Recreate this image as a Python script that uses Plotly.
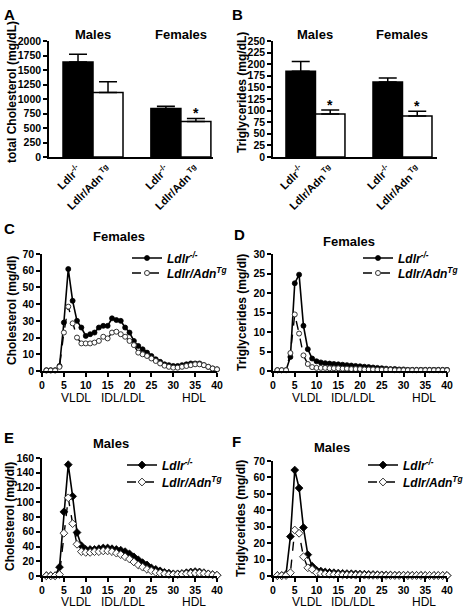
import plotly.graph_objects as go

W, H = 463, 612
FONT = "Liberation Sans, Arial, sans-serif"

# ---------------- data ----------------
GROUPS = ["Males", "Females"]
GENOTYPE_TICKS = ["Ldlr<sup>-/-</sup>", "Ldlr/Adn<sup> Tg</sup>"]

# Panel A: total cholesterol (mg/dL)
A_LDLR_MEAN = [1640, 837]
A_LDLR_ERR = [133, 38]
A_ADN_MEAN = [1114, 612]
A_ADN_ERR = [182, 53]
A_SIG = [False, True]

# Panel B: triglycerides (mg/dL)
B_LDLR_MEAN = [184.7, 161.6]
B_LDLR_ERR = [21, 8.5]
B_ADN_MEAN = [92.7, 88.4]
B_ADN_ERR = [8.5, 10]
B_SIG = [True, True]

FRACTIONS = list(range(1, 41))

C_LDLR = [0.5, 0.5, 0.5, 3, 29, 61, 42, 30, 26, 21, 22, 23, 26, 27, 27, 31.5, 30.5, 30, 26, 23,
          18, 15, 13, 11, 9, 7, 5.5, 4, 3.5, 3, 3, 3.5, 4, 4.5, 4.5, 4.5, 3.5, 2.5, 1.5, 1]
C_ADN = [0.3, 0.3, 0.3, 2.5, 23, 38.5, 28.5, 20, 16.5, 16.5, 16.5, 17, 18, 20.5, 19.5, 23, 23.5, 22, 20.5, 18,
         15.5, 11, 10, 9, 7.5, 6, 4.5, 3.2, 2.5, 2, 2, 2.5, 3, 3.5, 4, 4, 3.5, 2.5, 1.5, 1]

D_LDLR = [0.2, 0.2, 0.2, 3.6, 22.5, 24.7, 11.6, 5.6, 3.2, 2.5, 2.2, 2.0, 1.9, 1.8, 1.7, 1.6, 1.5, 1.4, 1.3, 1.2,
          1.1, 1.0, 0.9, 0.8, 0.7, 0.6, 0.5, 0.5, 0.4, 0.4, 0.3, 0.3, 0.3, 0.3, 0.3, 0.3, 0.3, 0.3, 0.3, 0.3]
D_ADN = [0.2, 0.2, 0.2, 4.6, 14.5, 9.6, 4.0, 1.8, 1.0, 0.8, 0.8, 0.8, 0.7, 0.7, 0.7, 0.6, 0.6, 0.5, 0.5, 0.5,
         0.4, 0.4, 0.4, 0.3, 0.3, 0.3, 0.3, 0.2, 0.2, 0.2, 0.2, 0.2, 0.2, 0.2, 0.2, 0.2, 0.2, 0.2, 0.2, 0.2]

E_LDLR = [0.5, 0.5, 0.5, 12, 87, 151, 108, 59, 41, 36, 36, 36, 37, 38, 38, 37, 36, 35, 33, 30,
          26, 22, 18, 15, 11, 9, 7, 5, 4, 3, 3, 3.5, 4.5, 5.5, 6, 5.5, 4.5, 3, 2, 1]
E_ADN = [0.3, 0.3, 0.3, 2, 58, 106, 71, 43, 33, 32, 32, 33, 33, 34, 34, 33, 31, 29, 26, 23,
         19, 15, 12, 9, 7, 5, 4, 3, 2, 2, 2, 2.5, 3, 3.5, 4, 4, 3.5, 2.5, 1.5, 1]

F_LDLR = [0.3, 0.3, 1, 24, 64.5, 53.5, 29.5, 13, 6, 3.5, 3, 2.5, 2.2, 2.0, 1.8, 1.6, 1.5, 1.4, 1.3, 1.2,
          1.1, 1.0, 0.9, 0.8, 0.7, 0.6, 0.6, 0.5, 0.5, 0.5, 0.4, 0.4, 0.4, 0.4, 0.3, 0.3, 0.3, 0.3, 0.3, 0.3]
F_ADN = [0.2, 0.2, 0.3, 2, 28, 26, 11.7, 5, 4, 2, 1.5, 1.2, 1.0, 0.9, 0.8, 0.7, 0.6, 0.6, 0.5, 0.5,
         0.5, 0.4, 0.4, 0.4, 0.3, 0.3, 0.3, 0.3, 0.3, 0.3, 0.3, 0.3, 0.3, 0.3, 0.3, 0.3, 0.3, 0.3, 0.3, 0.3]

REGION_LABELS = ["VLDL", "IDL/LDL", "HDL"]
REGION_X = [7.8, 18.5, 34.7]

LEGEND_NAMES = ["<i>Ldlr<sup>-/-</sup></i>", "<i>Ldlr/Adn<sup>Tg</sup></i>"]


# ---------------- helpers ----------------
def px(x):
    return x / W


def py(y):
    return 1 - y / H


def bold(size):
    return dict(family=FONT, size=size, color="black", weight="bold")


def label(x, y, text, font, xref="paper", yref="paper", angle=0):
    return dict(x=x, y=y, xref=xref, yref=yref, text=text, showarrow=False, font=font,
                xanchor="center", yanchor="middle", textangle=angle)


fig = go.Figure()
annotations = []

axis_common = dict(showline=True, linecolor="black", linewidth=1.5, showgrid=False,
                   zeroline=False, ticks="outside", ticklen=4, tickwidth=1.5, tickcolor="black",
                   tickfont=bold(10.5), fixedrange=True, automargin=False)

# --------- bar panels ---------
bar_panels = [
    dict(xa="x", ya="y", xd=(49, 213), yd=(41, 157), gap=2.93, xr=[-0.967, 4.5], yr=[0, 2000], dt=250,
         l=(A_LDLR_MEAN, A_LDLR_ERR), a=(A_ADN_MEAN, A_ADN_ERR), sig=A_SIG,
         title="total Cholesterol (mg/dL)", tpos=(12, 92), letter=("A", 9, 14)),
    dict(xa="x2", ya="y2", xd=(273, 437), yd=(41, 157), gap=2.95, xr=[-0.94, 4.62], yr=[0, 250], dt=25,
         l=(B_LDLR_MEAN, B_LDLR_ERR), a=(B_ADN_MEAN, B_ADN_ERR), sig=B_SIG,
         title="Triglycerides (mg/dL)", tpos=(242, 92), letter=("B", 237, 14)),
]

for i, p in enumerate(bar_panels):
    pos_l = [g * p["gap"] + 0 for g in range(len(GROUPS))]
    pos_a = [g * p["gap"] + 1 for g in range(len(GROUPS))]
    for pos, (mean, err), col in ((pos_l, p["l"], "black"), (pos_a, p["a"], "white")):
        fig.add_trace(go.Bar(
            x=pos, y=mean, width=1, xaxis=p["xa"], yaxis=p["ya"], showlegend=False,
            marker=dict(color=col, line=dict(color="black", width=1.5)),
            error_y=dict(type="data", symmetric=False, array=err, arrayminus=[0] * len(err),
                         color="black", thickness=1.5, width=9),
        ))
    mean_a, err_a = p["a"]
    for g, s in enumerate(p["sig"]):
        if s:
            annotations.append(dict(x=pos_a[g], y=mean_a[g] + err_a[g], xref=p["xa"], yref=p["ya"],
                                    text="*", showarrow=False, xanchor="center", yanchor="bottom",
                                    yshift=-5, font=bold(14)))
    for g, name in enumerate(GROUPS):
        annotations.append(label(g * p["gap"] + 0.5, py(34), name, bold(13), xref=p["xa"]))
    tickvals = []
    ticktext = []
    for g in range(len(GROUPS)):
        tickvals += [pos_l[g], pos_a[g]]
        ticktext += GENOTYPE_TICKS
    xkey = "xaxis" if i == 0 else "xaxis%d" % (i + 1)
    ykey = "yaxis" if i == 0 else "yaxis%d" % (i + 1)
    fig.layout[xkey] = dict(axis_common, domain=[px(p["xd"][0]), px(p["xd"][1])], range=p["xr"],
                            anchor=p["ya"], tickvals=tickvals, ticktext=ticktext, tickangle=-45,
                            ticks="", ticklen=0, tickfont=bold(11))
    fig.layout[ykey] = dict(axis_common, domain=[py(p["yd"][1]), py(p["yd"][0])], range=p["yr"],
                            dtick=p["dt"], tick0=0, anchor=p["xa"])
    annotations.append(label(px(p["tpos"][0]), py(p["tpos"][1]), p["title"], bold(12), angle=-90))
    annotations.append(label(px(p["letter"][1]), py(p["letter"][2]), p["letter"][0], bold(15)))

# --------- line panels ---------
# leg = (text start x px, row1 centre y px, row2 centre y px)
line_panels = [
    dict(n=3, xd=(42, 217), yd=(254, 371), yr=[0, 70], dt=10, l=C_LDLR, a=C_ADN, sym="circle",
         title="Cholesterol (mg/dl)", tpos=(12, 311), letter=("C", 9, 228), head="Females",
         hpos=(119, 237), leg=(167, 258, 273), lab_y=398),
    dict(n=4, xd=(273, 447), yd=(254, 371), yr=[0, 30], dt=5, l=D_LDLR, a=D_ADN, sym="circle",
         title="Triglycerides (mg/dl)", tpos=(242, 312), letter=("D", 239, 235), head="Females",
         hpos=(349, 242), leg=(398, 258, 273), lab_y=398),
    dict(n=5, xd=(42, 217), yd=(458, 576), yr=[0, 160], dt=20, l=E_LDLR, a=E_ADN, sym="diamond",
         title="Cholesterol (mg/dl)", tpos=(10, 517), letter=("E", 9, 437), head="Males",
         hpos=(111, 443), leg=(162, 465, 482), lab_y=602),
    dict(n=6, xd=(273, 447), yd=(461, 576), yr=[0, 70], dt=10, l=F_LDLR, a=F_ADN, sym="diamond",
         title="Triglycerides (mg/dl)", tpos=(241, 518), letter=("F", 236, 441), head="Males",
         hpos=(332, 447), leg=(403, 465, 482), lab_y=602),
]

legend_count = 0
for k, p in enumerate(line_panels):
    n = p["n"]
    xa, ya = "x%d" % n, "y%d" % n
    series = [
        (p["l"], LEGEND_NAMES[0], "black", "black", dict(color="black", width=1.6), p["leg"][1]),
        (p["a"], LEGEND_NAMES[1], "white", "#333333", dict(color="black", width=1.4, dash="dash"), p["leg"][2]),
    ]
    for vals, name, fill, edge, line, row_y in series:
        legend_count += 1
        legname = "legend" if legend_count == 1 else "legend%d" % legend_count
        fig.add_trace(go.Scatter(
            x=FRACTIONS, y=vals, mode="lines+markers", xaxis=xa, yaxis=ya, name=name,
            legend=legname, cliponaxis=False, line=line,
            marker=dict(symbol=p["sym"], size=5 if p["sym"] == "circle" else 6, color=fill,
                        line=dict(color=edge, width=1 if fill == "white" else 0.8)),
        ))
        fig.layout[legname] = dict(x=px(p["leg"][0] - 40), y=py(row_y), xanchor="left",
                                   yanchor="middle", bgcolor="rgba(0,0,0,0)", borderwidth=0,
                                   font=dict(family=FONT, size=12, color="black", weight="bold"),
                                   itemwidth=30)
    fig.layout["xaxis%d" % n] = dict(axis_common, domain=[px(p["xd"][0]), px(p["xd"][1])],
                                     range=[0, 40], dtick=5, tick0=0, anchor=ya)
    fig.layout["yaxis%d" % n] = dict(axis_common, domain=[py(p["yd"][1]), py(p["yd"][0])],
                                     range=p["yr"], dtick=p["dt"], tick0=0, anchor=xa)
    annotations.append(label(px(p["tpos"][0]), py(p["tpos"][1]), p["title"], bold(12), angle=-90))
    annotations.append(label(px(p["letter"][1]), py(p["letter"][2]), p["letter"][0], bold(15)))
    annotations.append(label(px(p["hpos"][0]), py(p["hpos"][1]), p["head"], bold(13)))
    for lab, lx in zip(REGION_LABELS, REGION_X):
        annotations.append(label(lx, py(p["lab_y"]), lab, dict(family=FONT, size=12, color="black"),
                                 xref=xa))

fig.update_layout(
    width=W, height=H, autosize=False,
    margin=dict(l=0, r=0, t=0, b=0, autoexpand=False),
    paper_bgcolor="white", plot_bgcolor="white",
    annotations=annotations,
    barmode="overlay",
    font=dict(family=FONT, color="black"),
)

fig.write_html(
    "out.html",
    config={"displayModeBar": False},
    post_script="document.body.style.margin='0';document.body.style.padding='0';",
)
